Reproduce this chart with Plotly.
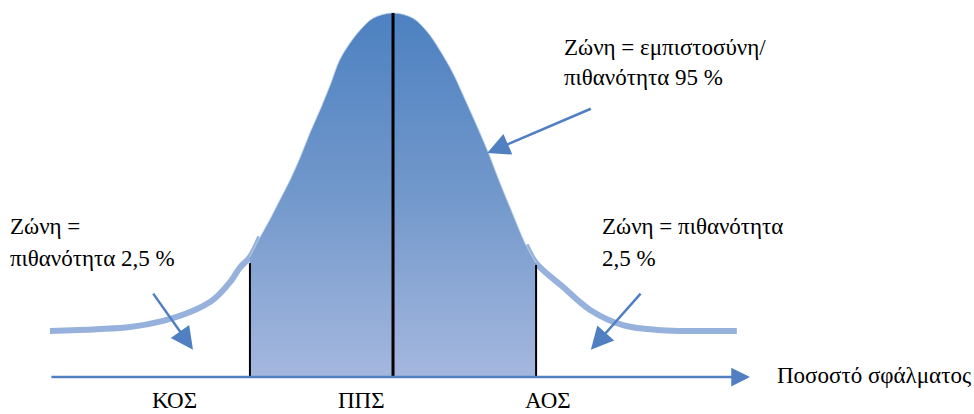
import plotly.graph_objects as go

# Curve: z-score position and relative height (peak = 1)
curve_z = [-4.70, -4.06, -3.60, -3.15, -2.78, -2.47, -2.23, -2.10, -1.96,
           -1.82, -1.69, -1.55, -1.41, -1.27, -1.14, -1.00, -0.86, -0.73,
           -0.59, -0.45, -0.27, 0.0,
           0.27, 0.47, 0.64, 0.82, 0.96, 1.29, 1.44, 1.60, 1.82, 1.96,
           2.33, 2.70, 3.15, 3.62, 4.71]
curve_h = [0.124, 0.129, 0.135, 0.152, 0.176, 0.209, 0.259, 0.298, 0.328,
           0.383, 0.430, 0.485, 0.540, 0.603, 0.669, 0.733, 0.802, 0.871,
           0.917, 0.953, 0.986, 1.0,
           0.986, 0.948, 0.898, 0.835, 0.774, 0.623, 0.545, 0.466, 0.361, 0.311,
           0.245, 0.182, 0.140, 0.127, 0.124]

crit_z      = [-1.96, 0.0, 1.96]
crit_top    = [0.311, 1.0, 0.306]
crit_labels = ["ΚΟΣ", "ΠΠΣ", "ΑΟΣ"]
label_z     = [-2.99, -0.43, 2.12]
axis_title  = "Ποσοστό σφάλματος"

FONT  = "Liberation Serif, Times New Roman, serif"
BLUE  = "#5080c2"
LIGHT = "#96b2dc"

lo, hi = crit_z[0], crit_z[-1]
pts   = list(zip(curve_z, curve_h))
i_lo  = curve_z.index(lo)
i_hi  = curve_z.index(hi)
mid   = pts[i_lo:i_hi + 1]
left  = pts[:i_lo + 2]      # run one point under the fill so the join stays smooth
right = pts[i_hi - 1:]

fig = go.Figure()

# tails (drawn first, the filled zone covers the overlap)
for seg in (left, right):
    fig.add_trace(go.Scatter(
        x         = [p[0] for p in seg],
        y         = [p[1] for p in seg],
        mode      = "lines",
        line      = dict(color=LIGHT, width=6, shape="spline"),
        hoverinfo = "skip",
    ))

# 95 % zone, gradient fill down to the axis
fig.add_trace(go.Scatter(
    x            = [p[0] for p in mid],
    y            = [p[1] for p in mid],
    mode         = "lines",
    line         = dict(color="rgba(190,208,236,0.9)", width=1, shape="spline"),
    fill         = "tozeroy",
    fillgradient = dict(type="vertical",
                        colorscale=[[0, "#a4b7de"], [0.5, "#7298cb"], [1, "#4d81c1"]],
                        start=0, stop=1),
    hoverinfo    = "skip",
))

# vertical lines at the critical values
for z, top in zip(crit_z, crit_top):
    fig.add_trace(go.Scatter(
        x         = [z, z],
        y         = [-0.004, top],
        mode      = "lines",
        line      = dict(color="black", width=3 if z == 0 else 2),
        hoverinfo = "skip",
    ))

annotations = []
txt_font = dict(family=FONT, size=23, color="black")

# horizontal axis with arrow
annotations.append(dict(
    x=4.89, y=-0.003, ax=curve_z[0], ay=-0.003, xref="x", yref="y", axref="x", ayref="y",
    text="", showarrow=True, arrowhead=2, arrowsize=1.5, arrowwidth=2.5,
    arrowcolor=BLUE, standoff=0,
))
annotations.append(dict(
    x=5.23, y=0.0, xref="x", yref="y", text=axis_title, showarrow=False,
    xanchor="left", yanchor="middle", font=txt_font,
))

# labels under the axis, kept just inside the bottom edge
for z, lab in zip(label_z, crit_labels):
    annotations.append(dict(
        x=z, y=0, xref="x", yref="paper", text=lab, showarrow=False,
        xanchor="center", yanchor="bottom", font=txt_font, borderpad=0,
    ))

texts = [
    (2.315, 0.904, "Ζώνη = εμπιστοσύνη/"),
    (2.315, 0.821, "πιθανότητα 95 %"),
    (-5.274, 0.413, "Ζώνη ="),
    (-5.274, 0.325, "πιθανότητα 2,5 %"),
    (2.836, 0.413, "Ζώνη = πιθανότητα"),
    (2.836, 0.325, "2,5 %"),
]
for x, y, t in texts:
    annotations.append(dict(
        x=x, y=y, xref="x", yref="y", text=t, showarrow=False,
        xanchor="left", yanchor="middle", font=txt_font,
    ))

# pointer arrows (tip, tail)
pointers = [
    ((1.29, 0.614), (2.73, 0.738)),
    ((-2.74, 0.072), (-3.30, 0.231)),
    ((2.71, 0.072), (3.41, 0.231)),
]
for (tx, ty), (sx, sy) in pointers:
    annotations.append(dict(
        x=tx, y=ty, ax=sx, ay=sy, xref="x", yref="y", axref="x", ayref="y",
        text="", showarrow=True, arrowhead=2, arrowsize=1.8, arrowwidth=2.5,
        arrowcolor=BLUE, standoff=0,
    ))

fig.update_layout(
    width         = 974,
    height        = 414,
    margin        = dict(l=0, r=0, t=0, b=0),
    showlegend    = False,
    paper_bgcolor = "white",
    plot_bgcolor  = "white",
    xaxis         = dict(range=[-5.384, 7.959], visible=False, fixedrange=True),
    yaxis         = dict(range=[-0.1047, 1.0358], visible=False, fixedrange=True),
    annotations   = annotations,
)

fig.write_html(
    "out.html",
    config      = {"displayModeBar": False},
    post_script = "document.body.style.margin='0';document.body.style.overflow='hidden';",
)
